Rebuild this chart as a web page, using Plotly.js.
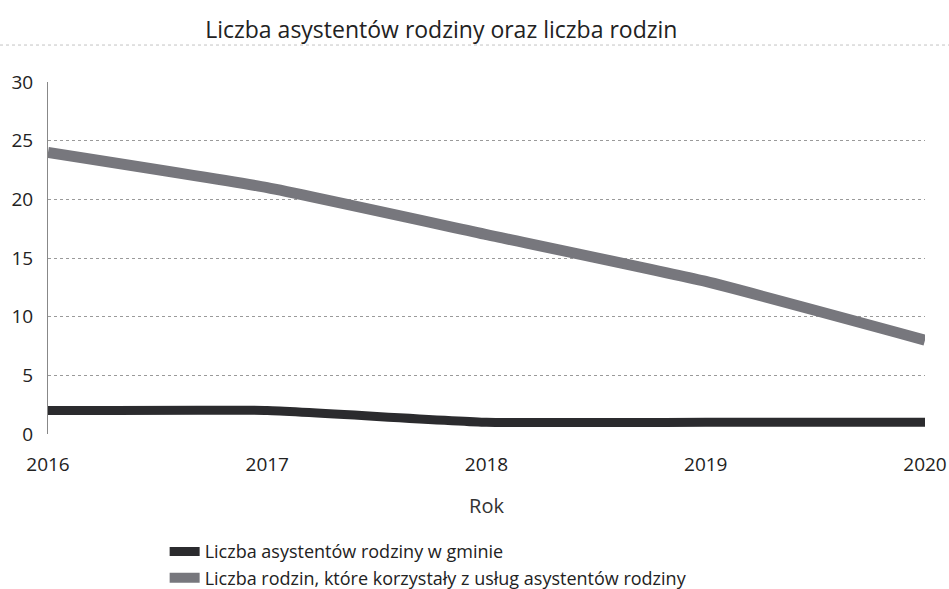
<!DOCTYPE html>
<html>
<head>
<meta charset="utf-8">
<script src="https://cdn.plot.ly/plotly-3.0.1.min.js"></script>
<style>html,body{margin:0;padding:0;background:#fff;}#chart{width:949px;height:589px;}</style>
</head>
<body>
<div id="chart"></div>
<script>
const years = [2016, 2017, 2018, 2019, 2020];
const seriesNames = [
  "Liczba asystentów rodziny w gminie",
  "Liczba rodzin, które korzystały z usług asystentów rodziny"
];
const assistants = [2, 2, 1, 1, 1];
const families = [24, 21, 17, 13, 8];
const yTicks = [0, 5, 10, 15, 20, 25, 30];

const FONT = "Open Sans, Noto Sans, DejaVu Sans, sans-serif";

const traces = [
  {x: years, y: assistants, name: seriesNames[0], type: "scatter", mode: "lines",
   line: {color: "#2b2b2e", width: 9, shape: "spline", smoothing: 0.4}},
  {x: years, y: families, name: seriesNames[1], type: "scatter", mode: "lines",
   line: {color: "#77777d", width: 11, shape: "spline", smoothing: 0.4}}
];

const layout = {
  width: 949, height: 589,
  paper_bgcolor: "#ffffff", plot_bgcolor: "#ffffff",
  margin: {l: 48, r: 24, t: 82, b: 155, autoexpand: false},
  font: {family: FONT, color: "#222", size: 18},
  title: {text: "Liczba asystentów rodziny oraz liczba rodzin", x: 0.465, xanchor: "center",
          y: 0.95, yanchor: "middle", font: {family: FONT, size: 23, color: "#222"}},
  xaxis: {range: [2016, 2020], tickvals: years, ticktext: years.map(String),
          showgrid: false, zeroline: false, showline: false, ticks: "",
          ticklabelstandoff: 17, tickfont: {size: 19, color: "#222"},
          title: {text: "Rok", font: {size: 20, color: "#333"}, standoff: 22}},
  yaxis: {range: [0, 30], tickvals: yTicks, showgrid: true, gridcolor: "#9a9a9a",
          griddash: "dot", gridwidth: 1, zeroline: false, showline: true,
          linecolor: "#888", linewidth: 1, ticks: "", ticklabelstandoff: 10,
          tickfont: {size: 19, color: "#222"}},
  showlegend: true,
  legend: {x: 0.133, y: -0.282, xanchor: "left", yanchor: "top", orientation: "v",
           font: {size: 18, color: "#222"}, itemwidth: 30, bgcolor: "rgba(0,0,0,0)",
           tracegroupgap: 0},
  shapes: [
    {type: "line", xref: "paper", yref: "paper", x0: -48/877, x1: 1 + 24/877,
     y0: 1.105, y1: 1.105, line: {color: "#c4c4c4", width: 1, dash: "dot"}}
  ]
};

Plotly.newPlot("chart", traces, layout, {displayModeBar: false, staticPlot: true});
</script>
</body>
</html>
